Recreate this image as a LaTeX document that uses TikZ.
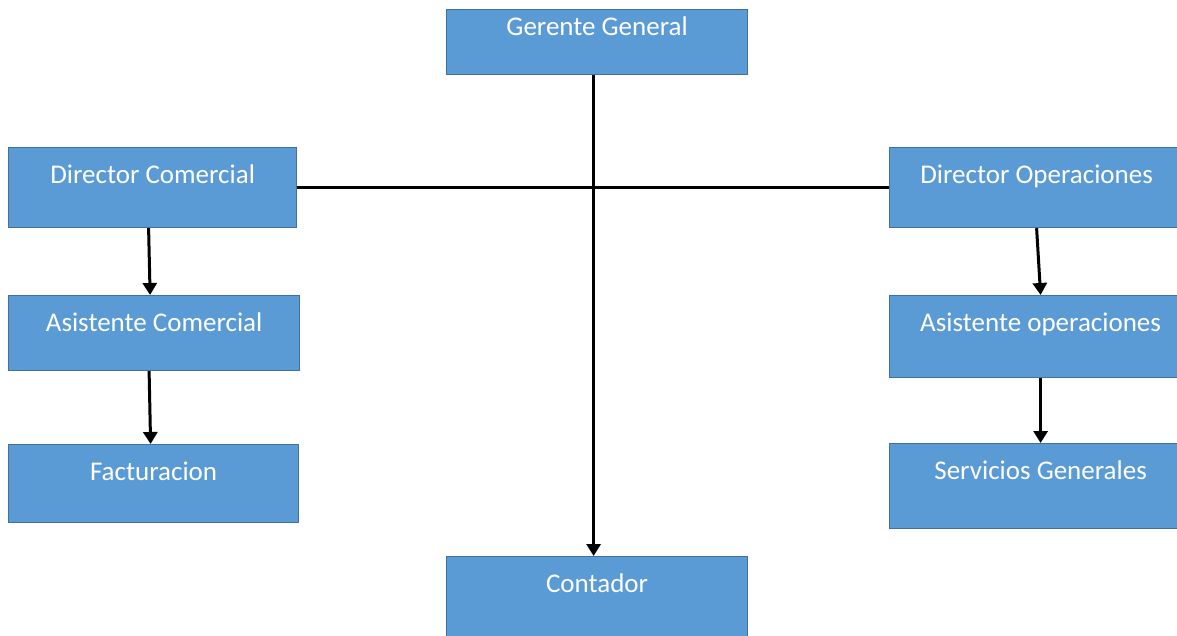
\documentclass[tikz,border=0pt]{standalone}
\usepackage{fontspec}
\setmainfont{Carlito}
\usetikzlibrary{arrows.meta}
\definecolor{boxfill}{HTML}{5B9BD5}
\definecolor{boxline}{HTML}{41719C}
\tikzset{
  orgbox/.style={draw=boxline, line width=1.2pt, fill=boxfill, text=white,
    font=\fontsize{27}{32}\selectfont, inner xsep=0pt, inner ysep=0pt,
    text height=36pt, anchor=north west},
  link/.style={line width=3pt, black},
  arrowlink/.style={link, -{Triangle[width=14pt,length=12pt]}}
}
\begin{document}
\begin{tikzpicture}[x=1pt,y=-1pt]
  \useasboundingbox (0,0) rectangle (1177,636);
  \fill[white] (0,0) rectangle (1177,636);
  \clip (0,0) rectangle (1177,636);

  % top and bottom of the central column
  \node[orgbox, minimum width=301pt, text height=26pt, text depth=39pt] (gg) at (446,9) {Gerente General};
  \node[orgbox, minimum width=301pt, text depth=60pt] (ct) at (446,556) {Contador};

  % commercial branch
  \node[orgbox, minimum width=288pt, text depth=44pt] (dc) at (8,147) {Director Comercial};
  \node[orgbox, minimum width=291pt, text depth=39pt] (ac) at (8,295) {Asistente Comercial};
  \node[orgbox, minimum width=290pt, text depth=42pt] (fa) at (8,444) {Facturacion};

  % operations branch
  \node[orgbox, minimum width=294pt, text depth=44pt] (do) at (889,147) {Director Operaciones};
  \node[orgbox, minimum width=302pt, text depth=46pt] (ao) at (889,295) {Asistente operaciones};
  \node[orgbox, minimum width=302pt, text depth=49pt] (sg) at (889,443) {Servicios Generales};

  % connectors
  \draw[link] (dc.east) -- (do.west);
  \draw[arrowlink] ([xshift=-3.5pt]gg.south) -- ([xshift=-3.5pt]ct.north);
  \draw[arrowlink] ([xshift=-4pt]dc.south) -- ([xshift=-4pt]ac.north);
  \draw[arrowlink] ([xshift=-5pt]ac.south) -- ([xshift=-3pt]fa.north);
  \draw[arrowlink] (do.south) -- (ao.north);
  \draw[arrowlink] (ao.south) -- (sg.north);
\end{tikzpicture}
\end{document}
